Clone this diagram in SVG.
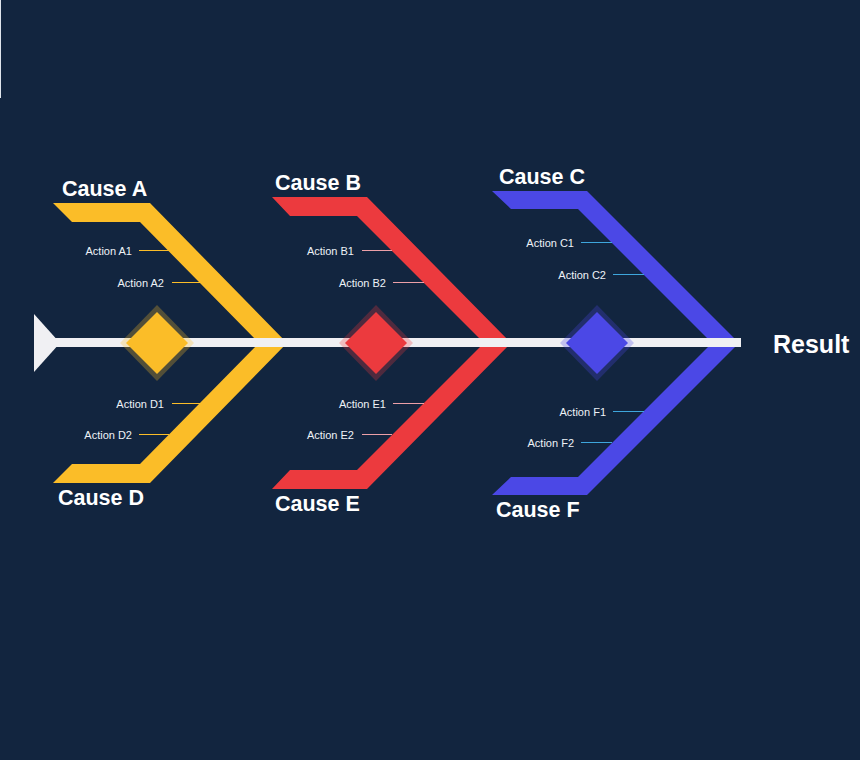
<svg xmlns="http://www.w3.org/2000/svg" width="860" height="760" viewBox="0 0 860 760">
  <defs>
    <style>
      .bg { fill: #12253f; }
      .cause { font-family: "Liberation Sans", Arial, sans-serif; font-weight: bold; font-size: 21.5px; fill: #ffffff; }
      .result { font-family: "Liberation Sans", Arial, sans-serif; font-weight: bold; font-size: 25px; fill: #ffffff; }
      .action { font-family: "Liberation Sans", Arial, sans-serif; font-size: 11px; fill: #eef2f7; text-anchor: end; }
      .spine { fill: #f0f0f3; }
      .y { fill: #fbbd28; }
      .r { fill: #ec3a3e; }
      .b { fill: #4b48e6; }
      .halo { opacity: 0.28; }
      .ly { stroke: #fbbd28; stroke-width: 1; }
      .lr { stroke: #eca0a8; stroke-width: 1; }
      .lb { stroke: #3ea6dc; stroke-width: 1; }
    </style>
  </defs>
  <rect class="bg" x="0" y="0" width="860" height="760"/>
  <rect x="0" y="0" width="1" height="98" fill="#dfe5ec"/>

  <!-- chevron branches -->
  <g id="branch-a-d">
    <polygon class="y" points="53,203 150,203 287,343 150,483 53,483 72,464 140,464 259,343 140,222 72,222"/>
  </g>
  <g id="branch-b-e">
    <polygon class="r" points="272,197 367,197 511,343 367,489 272,489 290,470 357,470 484,343 357,216 290,216"/>
  </g>
  <g id="branch-c-f">
    <polygon class="b" points="492,191 587,191 739,343 587,495 492,495 511,477 578,477 712,343 578,209 511,209"/>
  </g>

  <!-- spine -->
  <g id="spine">
    <polygon class="spine" points="34,314 60,343 34,372"/>
    <rect class="spine" x="55" y="338" width="686" height="9"/>
  </g>

  <!-- diamonds -->
  <g id="diamond-yellow">
    <polygon class="y halo" points="157,305 194,343 157,381 120,343"/>
    <polygon class="y" points="157,312 188,343 157,374 126,343"/>
  </g>
  <g id="diamond-red">
    <polygon class="r halo" points="376,305 413,343 376,381 339,343"/>
    <polygon class="r" points="376,312 407,343 376,374 345,343"/>
  </g>
  <g id="diamond-blue">
    <polygon class="b halo" points="597,305 634,343 597,381 560,343"/>
    <polygon class="b" points="597,312 628,343 597,374 566,343"/>
  </g>

  <!-- connectors -->
  <g id="connectors">
    <line class="ly" x1="139" y1="250.5" x2="169" y2="250.5"/>
    <line class="ly" x1="172" y1="282.5" x2="201" y2="282.5"/>
    <line class="ly" x1="172" y1="403.5" x2="201" y2="403.5"/>
    <line class="ly" x1="139" y1="434.5" x2="169" y2="434.5"/>
    <line class="lr" x1="362" y1="250.5" x2="392" y2="250.5"/>
    <line class="lr" x1="393" y1="282.5" x2="424" y2="282.5"/>
    <line class="lr" x1="393" y1="403.5" x2="424" y2="403.5"/>
    <line class="lr" x1="362" y1="434.5" x2="392" y2="434.5"/>
    <line class="lb" x1="581" y1="242.5" x2="612" y2="242.5"/>
    <line class="lb" x1="613" y1="274.5" x2="644" y2="274.5"/>
    <line class="lb" x1="613" y1="411.5" x2="644" y2="411.5"/>
    <line class="lb" x1="581" y1="442.5" x2="612" y2="442.5"/>
  </g>

  <!-- labels -->
  <g id="cause-a"><text class="cause" x="62" y="196">Cause A</text></g>
  <g id="cause-b"><text class="cause" x="275" y="190">Cause B</text></g>
  <g id="cause-c"><text class="cause" x="499" y="184">Cause C</text></g>
  <g id="cause-d"><text class="cause" x="58" y="505">Cause D</text></g>
  <g id="cause-e"><text class="cause" x="275" y="511">Cause E</text></g>
  <g id="cause-f"><text class="cause" x="496" y="517">Cause F</text></g>
  <g id="result"><text class="result" x="773" y="353">Result</text></g>

  <g id="action-a1"><text class="action" x="132" y="255">Action A1</text></g>
  <g id="action-a2"><text class="action" x="164" y="287">Action A2</text></g>
  <g id="action-d1"><text class="action" x="164" y="408">Action D1</text></g>
  <g id="action-d2"><text class="action" x="132" y="439">Action D2</text></g>
  <g id="action-b1"><text class="action" x="354" y="255">Action B1</text></g>
  <g id="action-b2"><text class="action" x="386" y="287">Action B2</text></g>
  <g id="action-e1"><text class="action" x="386" y="408">Action E1</text></g>
  <g id="action-e2"><text class="action" x="354" y="439">Action E2</text></g>
  <g id="action-c1"><text class="action" x="574" y="247">Action C1</text></g>
  <g id="action-c2"><text class="action" x="606" y="279">Action C2</text></g>
  <g id="action-f1"><text class="action" x="606" y="416">Action F1</text></g>
  <g id="action-f2"><text class="action" x="574" y="447">Action F2</text></g>
</svg>
